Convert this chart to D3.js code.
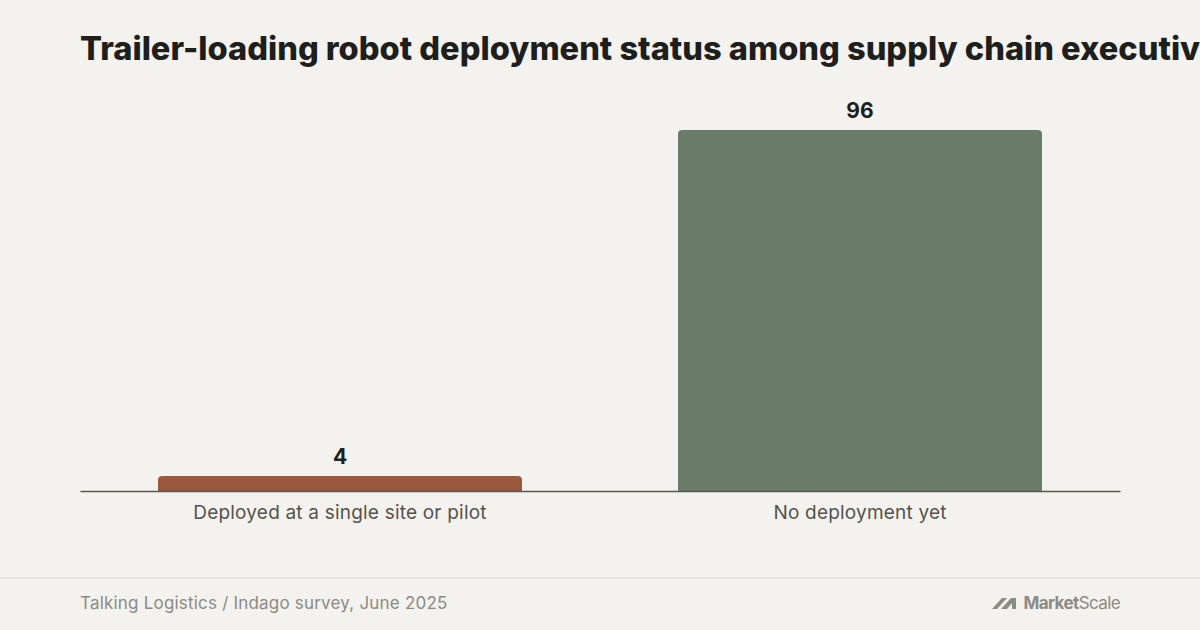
<!DOCTYPE html>
<html>
<head>
<meta charset="utf-8">
<script src="https://cdn.jsdelivr.net/npm/d3@7"></script>
<style>
  html, body { margin: 0; padding: 0; background: #f3f2ee; }
  svg { display: block; font-family: Inter, "DejaVu Sans", sans-serif; }
</style>
</head>
<body>
<div id="chart"></div>
<script>
// data
const categories = ['Deployed at a single site or pilot', 'No deployment yet'];
const values = [4, 96];
const colors = ['#9a583c', '#6a7b69'];
const title = 'Trailer-loading robot deployment status among supply chain executives';
const source = 'Talking Logistics / Indago survey, June 2025';

const width = 1200;
const height = 630;
const margin = {top: 115, left: 80, right: 80, bottom: 139};

const svg = d3.select('#chart').append('svg')
  .attr('width', width)
  .attr('height', height);

svg.append('rect')
  .attr('width', width)
  .attr('height', height)
  .attr('fill', '#f3f2ee');

// title (runs past the right edge, as in the original)
svg.append('text')
  .attr('x', margin.left)
  .attr('y', 60)
  .style('font-size', '32.6px')
  .style('font-weight', 800)
  .style('letter-spacing', '0px')
  .attr('fill', '#1e1e1c')
  .text(title);

// scales
const x = d3.scaleBand()
  .domain(categories)
  .range([margin.left, width - margin.right])
  .paddingInner(0.3)
  .paddingOuter(0.15);

const y = d3.scaleLinear()
  .domain([0, 100])
  .range([height - margin.bottom, margin.top]);

// bar with rounded top corners
const r = 4;
const barPath = (x0, x1, yt, yb) => {
  const rr = Math.min(r, (yb - yt));
  return `M${x0},${yb} L${x0},${yt + rr} Q${x0},${yt} ${x0 + rr},${yt} ` +
    `L${x1 - rr},${yt} Q${x1},${yt} ${x1},${yt + rr} L${x1},${yb} Z`;
};

const data = categories.map((c, i) => ({name: c, value: values[i], color: colors[i]}));

svg.append('g').attr('class', 'bars')
  .selectAll('path')
  .data(data)
  .join('path')
  .attr('d', d => barPath(x(d.name), x(d.name) + x.bandwidth(), y(d.value), y(0)))
  .attr('fill', d => d.color);

// value labels
svg.append('g').attr('class', 'values')
  .selectAll('text')
  .data(data)
  .join('text')
  .attr('x', d => x(d.name) + x.bandwidth() / 2)
  .attr('y', d => y(d.value) - 12)
  .attr('text-anchor', 'middle')
  .style('font-size', '21px')
  .style('font-weight', 700)
  .attr('fill', '#1e1e1c')
  .text(d => d.value);

// x axis
const axis = svg.append('g')
  .attr('transform', `translate(0, ${y(0)})`)
  .call(d3.axisBottom(x).tickSize(0).tickSizeOuter(0).tickPadding(15));
axis.select('.domain')
  .attr('stroke', '#5a5752')
  .attr('stroke-width', 1.5);
axis.selectAll('text')
  .style('font-family', 'Inter, sans-serif')
  .style('font-size', '19px')
  .style('letter-spacing', '0.2px')
  .attr('fill', '#55524d');

// footer
svg.append('line')
  .attr('x1', 0).attr('x2', width)
  .attr('y1', 578).attr('y2', 578)
  .attr('stroke', '#e3e1dc')
  .attr('stroke-width', 1.5);

svg.append('text')
  .attr('x', margin.left)
  .attr('y', 609)
  .style('font-size', '17px')
  .style('letter-spacing', '0.2px')
  .attr('fill', '#8c8a85')
  .text(source);

// logo
const logo = svg.append('g')
  .attr('transform', `translate(${width - margin.right}, 609)`)
  .attr('fill', '#8c8a85');
logo.append('text')
  .attr('text-anchor', 'end')
  .style('font-size', '17px')
  .style('letter-spacing', '-0.6px')
  .html('<tspan font-weight="700">Market</tspan><tspan font-weight="400">Scale</tspan>');
logo.append('path')
  .attr('d', 'M-128,0 L-118,-11 L-113,-11 L-123,0 Z ' +
    'M-119,0 L-109,-11 L-104,-11 L-104,0 L-108,0 L-108,-6 L-113,0 Z');
</script>
</body>
</html>
